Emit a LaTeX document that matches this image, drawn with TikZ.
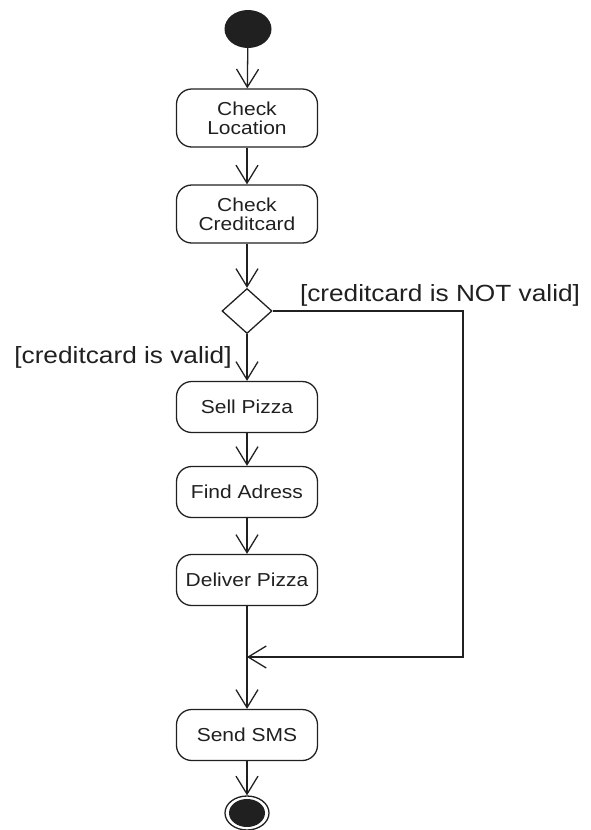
\documentclass[tikz,border=0pt]{standalone}
\usepackage{fontspec}
\setmainfont[FakeStretch=1.12]{Liberation Sans}
\usetikzlibrary{arrows.meta,shapes.geometric,positioning}
\definecolor{ink}{HTML}{202020}
\tikzset{act/.style={draw=ink, line width=1.1pt, rounded corners=13pt, minimum width=4.23cm, minimum height=1.53cm, align=center, font=\fontsize{16}{16.5}\selectfont, text=ink}, flow/.style={-{Straight Barb[length=5.4mm,width=6.6mm]}, line width=1.1pt, color=ink}, guard/.style={font=\fontsize{20}{24}\selectfont, text=ink}, choice/.style={diamond, draw=ink, line width=1.1pt, minimum width=1.5cm, minimum height=1.35cm, inner sep=0pt}}
\begin{document}
\begin{tikzpicture}[x=0.03cm, y=-0.03cm]
\useasboundingbox (0,0) rectangle (591,830);
\node[ellipse, fill=ink, minimum width=1.41cm, minimum height=1.14cm, inner sep=0pt] (start) at (248,29) {};
\node[act, minimum height=1.74cm] (loc) at (247,118) {Check\\Location};
\node[act, minimum height=1.74cm] (card) at (247,214) {Check\\Creditcard};
\node[choice] (valid) at (247,311) {};
\node[act] (sell) at (247,407) {Sell Pizza};
\node[act] (find) at (247,492) {Find Adress};
\node[act] (deliver) at (247,580) {Deliver Pizza};
\node[act] (sms) at (247,735) {Send SMS};
\node[ellipse, draw=ink, line width=1.1pt, minimum width=1.32cm, minimum height=1.02cm, inner sep=0pt] (stop) at (247,813) {};
\node[ellipse, fill=ink, minimum width=1.08cm, minimum height=0.84cm, inner sep=0pt] (stopdot) at (247,813) {};
\coordinate (corner) at (463,657);
\coordinate (merge) at (247,657);
% main flow
\draw[flow] (start) -- (loc);
\draw[flow] (loc) -- (card);
\draw[flow] (card) -- (valid);
\draw[flow] (valid) -- (sell);
\draw[flow] (sell) -- (find);
\draw[flow] (find) -- (deliver);
\draw[flow] (deliver) -- (sms);
\draw[flow] (sms) -- (stop);
% rejected card
\draw[flow] (valid.east) -| (corner) -- (merge);
\node[guard] (yes) at (123,357) {[creditcard is valid]};
\node[guard] (no) at (440,295) {[creditcard is NOT valid]};
\end{tikzpicture}
\end{document}
